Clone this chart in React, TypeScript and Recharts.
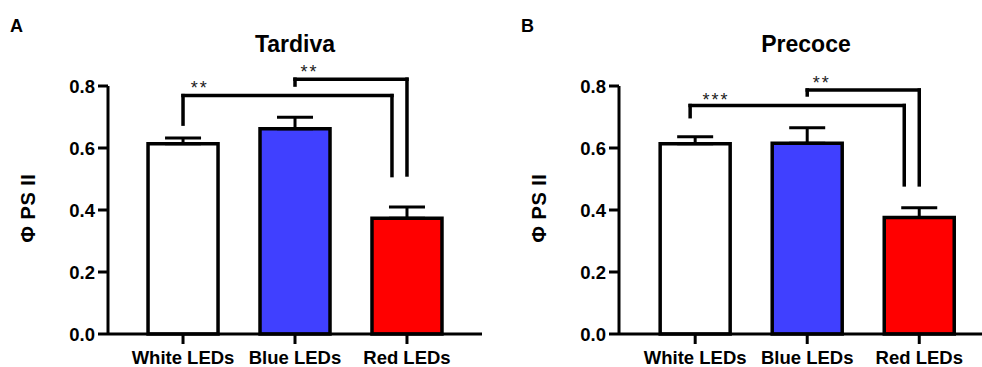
import { BarChart, Bar, XAxis, YAxis, Cell, ErrorBar, ReferenceLine, ReferenceDot } from 'recharts';

const categories = ['White LEDs', 'Blue LEDs', 'Red LEDs'];
const barColors = ['#FFFFFF', '#4040FF', '#FF0000'];
const yTicks = [0, 0.2, 0.4, 0.6, 0.8];

const tardivaMeans = [0.614, 0.662, 0.373];
const tardivaErrors = [0.018, 0.037, 0.037];

const precoceMeans = [0.614, 0.615, 0.376];
const precoceErrors = [0.022, 0.05, 0.031];

// brackets: horizontal at y, left leg at x1 down to y1, right leg at x2 down to y2
const tardivaBrackets = [
  { x1: 0, y1: 0.677, x2: 1.866, y2: 0.511, y: 0.769, stars: '**', sx: 0.15, sy: 0.795 },
  { x1: 1, y1: 0.803, x2: 2, y2: 0.513, y: 0.822, stars: '**', sx: 1.13, sy: 0.845 },
];
const precoceBrackets = [
  { x1: -0.045, y1: 0.701, x2: 1.866, y2: 0.481, y: 0.737, stars: '***', sx: 0.185, sy: 0.757 },
  { x1: 1, y1: 0.771, x2: 2, y2: 0.481, y: 0.787, stars: '**', sx: 1.13, sy: 0.812 },
];

const FONT = '"Liberation Sans", Arial, sans-serif';

type Bracket = (typeof tardivaBrackets)[number];

interface PanelProps {
  means: number[];
  errors: number[];
  brackets: Bracket[];
  yAxisWidth: number;
  width: number;
  rightMargin: number;
  xDomain: [number, number];
}

function Panel({ means, errors, brackets, yAxisWidth, width, rightMargin, xDomain }: PanelProps) {
  const data = means.map((m, i) => ({ x: i, value: m, err: [0, errors[i]] }));
  const line = { stroke: '#000', strokeWidth: 3.5, strokeLinecap: 'square' as const };
  const tickStyle = { fill: '#000', fontSize: 18.5, fontWeight: 700, fontFamily: FONT };

  return (
    <BarChart width={width} height={367} data={data} margin={{ top: 86, right: rightMargin, bottom: 0, left: 0 }}>
      <XAxis
        dataKey="x"
        type="number"
        domain={xDomain}
        ticks={[0, 1, 2]}
        interval={0}
        tickFormatter={(i: number) => categories[i]}
        height={33}
        tickSize={10}
        tickMargin={7}
        axisLine={{ stroke: '#000', strokeWidth: 3 }}
        tickLine={{ stroke: '#000', strokeWidth: 3 }}
        tick={tickStyle}
      />
      <YAxis
        domain={[0, 0.8]}
        ticks={yTicks}
        interval={0}
        tickFormatter={(v: number) => v.toFixed(1)}
        width={yAxisWidth}
        tickSize={10}
        tickMargin={3}
        axisLine={{ stroke: '#000', strokeWidth: 3 }}
        tickLine={{ stroke: '#000', strokeWidth: 3 }}
        tick={tickStyle}
      />
      <Bar dataKey="value" barSize={70} stroke="#000" strokeWidth={3.5} isAnimationActive={false}>
        {data.map((_, i) => (
          <Cell key={i} fill={barColors[i]} />
        ))}
        <ErrorBar dataKey="err" width={18} stroke="#000" strokeWidth={3} direction="y" />
      </Bar>
      {brackets.map((b, i) => (
        <ReferenceLine key={`h${i}`} segment={[{ x: b.x1, y: b.y }, { x: b.x2, y: b.y }]} ifOverflow="visible" {...line} />
      ))}
      {brackets.map((b, i) => (
        <ReferenceLine key={`l${i}`} segment={[{ x: b.x1, y: b.y }, { x: b.x1, y: b.y1 }]} ifOverflow="visible" {...line} />
      ))}
      {brackets.map((b, i) => (
        <ReferenceLine key={`r${i}`} segment={[{ x: b.x2, y: b.y }, { x: b.x2, y: b.y2 }]} ifOverflow="visible" {...line} />
      ))}
      {brackets.map((b, i) => (
        <ReferenceDot
          key={`s${i}`}
          x={b.sx}
          y={b.sy}
          r={0}
          ifOverflow="visible"
          label={{ value: b.stars, position: 'center', fill: '#222', fontSize: 18, fontFamily: FONT, letterSpacing: 2 }}
        />
      ))}
    </BarChart>
  );
}

const titleStyle: React.CSSProperties = {
  position: 'absolute',
  fontFamily: FONT,
  fontWeight: 700,
  fontSize: 23,
  color: '#000',
  transform: 'translateX(-50%)',
  whiteSpace: 'nowrap',
  lineHeight: 1,
};
const letterStyle: React.CSSProperties = {
  position: 'absolute',
  fontFamily: FONT,
  fontWeight: 700,
  fontSize: 18,
  color: '#000',
  lineHeight: 1,
};
const yLabelStyle: React.CSSProperties = {
  position: 'absolute',
  fontFamily: FONT,
  fontWeight: 700,
  fontSize: 20,
  letterSpacing: 0.5,
  color: '#000',
  whiteSpace: 'nowrap',
  lineHeight: 1,
  transform: 'translate(-50%, -50%) rotate(-90deg)',
};

export default function App() {
  return (
    <div style={{ position: 'absolute', left: 0, top: 0, width: 982, height: 367, background: '#fff', overflow: 'hidden' }}>
      <div style={{ position: 'absolute', left: 0, top: 0 }}>
        <Panel
          means={tardivaMeans}
          errors={tardivaErrors}
          brackets={tardivaBrackets}
          yAxisWidth={108}
          width={491}
          rightMargin={9}
          xDomain={[-0.67, 2.67]}
        />
      </div>
      <div style={{ position: 'absolute', left: 491, top: 0 }}>
        <Panel
          means={precoceMeans}
          errors={precoceErrors}
          brackets={precoceBrackets}
          yAxisWidth={128}
          width={491}
          rightMargin={0}
          xDomain={[-0.68, 2.56]}
        />
      </div>
      <div style={{ ...letterStyle, left: 10, top: 17 }}>A</div>
      <div style={{ ...letterStyle, left: 521, top: 17 }}>B</div>
      <div style={{ ...titleStyle, left: 295, top: 33 }}>Tardiva</div>
      <div style={{ ...titleStyle, left: 806, top: 33 }}>Precoce</div>
      <div style={{ ...yLabelStyle, left: 28, top: 208 }}>Φ PS II</div>
      <div style={{ ...yLabelStyle, left: 539, top: 208 }}>Φ PS II</div>
    </div>
  );
}
